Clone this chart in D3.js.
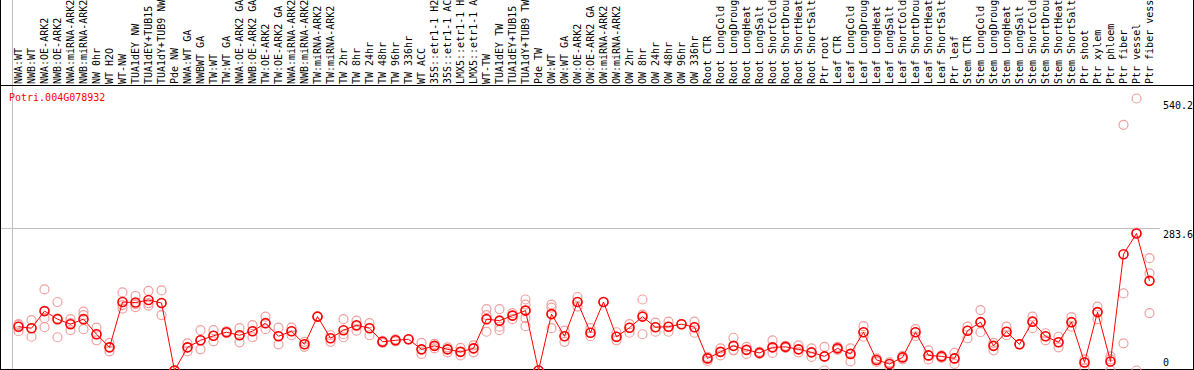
<!DOCTYPE html>
<html>
<head>
<meta charset="utf-8">
<script src="https://cdn.jsdelivr.net/npm/d3@7"></script>
<style>
  html, body { margin: 0; padding: 0; background: #fff; }
  svg { display: block; }
  text { font-family: "DejaVu Sans Mono", "Liberation Mono", monospace; font-size: 10px; }
</style>
</head>
<body>
<div id="chart"></div>
<script>
const geneName = 'Potri.004G078932';

// sample names as far as they fit in the header
const samples = [
  'NWA:WT', 'NWB:WT', 'NWA:OE-ARK2', 'NWB:OE-ARK2', 'NWA:miRNA-ARK2', 'NWB:miRNA-ARK2', 'NW 0hr', 'WT H2O', 'WT-NW',
  'TUA1dEY NW', 'TUA1dEY+TUB15', 'TUA1dY+TUB9 NW', 'Pde NW',
  'NWA:WT GA', 'NWBWT GA', 'TW:WT', 'TW:WT GA', 'NWA:OE-ARK2 GA', 'NWB:OE-ARK2 GA', 'TW:OE-ARK2', 'TW:OE-ARK2 GA',
  'NWA:miRNA-ARK2', 'NWB:miRNA-ARK2', 'TW:miRNA-ARK2', 'TW:miRNA-ARK2', 'TW 2hr', 'TW 8hr', 'TW 24hr', 'TW 48hr',
  'TW 96hr', 'TW 336hr', 'WT ACC', '35S::etr1-1 H2', '35S::etr1-1 AC', 'LMX5::etr1-1 H', 'LMX5::etr1-1 A',
  'WT-TW', 'TUA1dEY TW', 'TUA1dEY+TUB15', 'TUA1dY+TUB9 TW', 'Pde TW',
  'OW:WT', 'OW:WT GA', 'OW:OE-ARK2', 'OW:OE-ARK2 GA', 'OW:miRNA-ARK2', 'OW:miRNA-ARK2', 'OW 2hr', 'OW 8hr',
  'OW 24hr', 'OW 48hr', 'OW 96hr', 'OW 336hr',
  'Root CTR', 'Root LongCold', 'Root LongDroug', 'Root LongHeat', 'Root LongSalt', 'Root ShortCold',
  'Root ShortDrou', 'Root ShortHeat', 'Root ShortSalt', 'Ptr root',
  'Leaf CTR', 'Leaf LongCold', 'Leaf LongDroug', 'Leaf LongHeat', 'Leaf LongSalt', 'Leaf ShortCold',
  'Leaf ShortDrou', 'Leaf ShortHeat', 'Leaf ShortSalt', 'Ptr leaf',
  'Stem CTR', 'Stem LongCold', 'Stem LongDroug', 'Stem LongHeat', 'Stem LongSalt', 'Stem ShortCold',
  'Stem ShortDrou', 'Stem ShortHeat', 'Stem ShortSalt', 'Ptr shoot', 'Ptr xylem',
  'Ptr phloem', 'Ptr fiber', 'Ptr vessel', 'Ptr fiber vess'
];

// number of samples in each block between the grey dividers
const groupSizes = [13, 28, 12, 10, 10, 11, 1, 1, 1, 1];

// mean expression per sample
const means = [
  87, 84, 118, 102, 92, 102, 72, 46, 136, 135, 140, 134, 0,
  46, 60, 69, 76, 70, 78, 94, 68, 78, 52, 107, 64, 80, 90, 84, 57, 60, 62, 42, 49, 42, 37, 44, 102, 99, 109, 119, 0,
  112, 68, 136, 75, 136, 67, 85, 107, 86, 87, 92, 86,
  24, 37, 49, 41, 35, 46, 47, 42, 36, 28,
  44, 33, 76, 21, 13, 26, 76, 30, 28, 24,
  79, 96, 49, 77, 52, 97, 68, 56, 96, 16, 116,
  18, 231, 272, 178
];

// individual replicates per sample
const replicates = [
  [92, 90, 78], [100, 84, 67], [161, 104, 86], [136, 103, 66], [102, 94, 80], [117, 110, 82], [85, 72, 60],
  [55, 46, 38], [155, 130, 123], [148, 132, 126], [158, 134, 129], [159, 134, 110], [0, 0],
  [54, 46, 38], [80, 60, 42], [80, 69, 58], [78, 76, 74], [84, 70, 56], [90, 78, 66], [107, 94, 82], [85, 68, 52],
  [85, 78, 70], [57, 52, 47], [107, 107], [70, 64, 57], [102, 72, 66], [99, 88, 79], [94, 84, 70], [59, 57, 55],
  [62, 60, 58], [62, 62], [55, 42, 33], [53, 49, 44], [46, 42, 36], [45, 37, 30], [50, 44, 36], [122, 110, 77],
  [122, 98, 87, 80], [114, 109, 102], [141, 131, 119, 104, 88], [0, 0],
  [131, 125, 112, 84], [79, 68, 57], [146, 136, 127], [84, 75, 68], [136, 136], [76, 67, 60], [92, 85, 75],
  [141, 111, 72], [95, 86, 77], [97, 87, 77], [92, 92], [97, 86, 75],
  [27, 24, 19], [44, 37, 30], [65, 41, 40], [47, 41, 33], [37, 35, 33], [60, 46, 35], [49, 47, 45], [50, 42, 36],
  [44, 36, 27], [47, 28, 0],
  [47, 44, 41], [44, 33, 18], [88, 76, 67], [24, 21, 17], [16, 13, 8], [29, 26, 22], [82, 76, 68], [40, 30, 22],
  [30, 28, 25], [35, 24, 13],
  [87, 79, 64], [120, 96, 76], [55, 49, 40], [87, 77, 70], [52, 52], [107, 97, 84], [74, 68, 60], [67, 56, 46],
  [106, 96, 87], [22, 16, 4], [127, 116, 102],
  [28, 22, 0], [488, 153, 54], [540.2, 274, 0], [223, 193, 114]
];

const yTicks = [540.2, 283.6, 0];
const refLine = 283.6;

const width = 1194, height = 370;
const headerBottom = 85.5, plotBottom = 369.5, plotLeft = 12, plotRight = 1156;

const svg = d3.select('#chart').append('svg')
  .attr('width', width)
  .attr('height', height);

const x = d3.scaleLinear().domain([0, samples.length]).range([plotLeft, plotRight]);
const y = d3.scaleLinear().domain([0, 540.2]).range([370.5, 98.5]);
const cx = i => x(i + 0.5);

// group dividers
const dividers = [0].concat(d3.cumsum(groupSizes));
svg.append('g').selectAll('line')
  .data(dividers)
  .join('line')
  .attr('x1', d => Math.round(x(d)) + 0.5)
  .attr('x2', d => Math.round(x(d)) + 0.5)
  .attr('y1', 0)
  .attr('y2', plotBottom)
  .attr('stroke', '#c0c0c0');

// reference line
svg.append('line')
  .attr('x1', 0).attr('x2', 1160)
  .attr('y1', Math.round(y(refLine)) + 0.5)
  .attr('y2', Math.round(y(refLine)) + 0.5)
  .attr('stroke', '#c0c0c0');

// sample labels (rotated)
svg.append('g').selectAll('text')
  .data(samples)
  .join('text')
  .attr('transform', (d, i) => `translate(${cx(i)},${headerBottom - 1.5}) rotate(-90)`)
  .attr('dy', '0.35em')
  .attr('fill', '#000')
  .text(d => d);

// frame
svg.append('line').attr('x1', 0).attr('x2', width).attr('y1', headerBottom).attr('y2', headerBottom).attr('stroke', '#000');
svg.append('line').attr('x1', 0).attr('x2', width).attr('y1', plotBottom).attr('y2', plotBottom).attr('stroke', '#000');
svg.append('line').attr('x1', 0.5).attr('x2', 0.5).attr('y1', 0).attr('y2', height).attr('stroke', '#000');
svg.append('line').attr('x1', width - 0.5).attr('x2', width - 0.5).attr('y1', 0).attr('y2', height).attr('stroke', '#000');

// y labels on the right
svg.append('g').selectAll('text')
  .data(yTicks)
  .join('text')
  .attr('x', 1163)
  .attr('y', d => Math.min(y(d) + 10, 366))
  .attr('fill', '#000')
  .text(d => d);

// gene name
svg.append('text')
  .attr('x', 9)
  .attr('y', 101)
  .attr('fill', '#ff0000')
  .text(geneName);

// replicate circles
const repPoints = [];
replicates.forEach((reps, i) => reps.forEach(v => repPoints.push({ i, v })));
svg.append('g').selectAll('circle')
  .data(repPoints)
  .join('circle')
  .attr('cx', d => cx(d.i))
  .attr('cy', d => y(d.v))
  .attr('r', 4.5)
  .attr('fill', 'none')
  .attr('stroke', '#f0a0a0')
  .attr('stroke-width', 1.2);

// mean line
svg.append('path')
  .datum(means)
  .attr('d', d3.line().x((d, i) => cx(i)).y(d => y(d)))
  .attr('fill', 'none')
  .attr('stroke', '#ff0000')
  .attr('stroke-width', 1);

// mean circles
svg.append('g').selectAll('circle')
  .data(means)
  .join('circle')
  .attr('cx', (d, i) => cx(i))
  .attr('cy', d => y(d))
  .attr('r', 4.5)
  .attr('fill', 'none')
  .attr('stroke', '#ff0000')
  .attr('stroke-width', 1.6);
</script>
</body>
</html>
